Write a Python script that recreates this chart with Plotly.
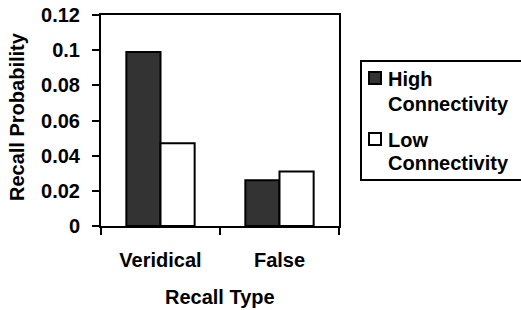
import plotly.graph_objects as go

categories = ["Veridical", "False"]
high_connectivity = [0.099, 0.026]
low_connectivity = [0.047, 0.031]
series_names = ["High<br>Connectivity", "Low<br>Connectivity"]
series_colors = ["#333333", "white"]
y_tick_vals = [0, 0.02, 0.04, 0.06, 0.08, 0.1, 0.12]
y_tick_text = ["0", "0.02", "0.04", "0.06", "0.08", "0.1", "0.12"]

FONT = "Liberation Sans, Arial, sans-serif"
FS = 20

# plot area in pixels
L, R, T, B = 101, 339, 15, 226
W, H = 521, 310


def px2x(px):
    return (px - L) / (R - L)


def px2y(py):
    return (B - py) / (B - T)


fig = go.Figure()
for name, vals, col in zip(series_names, [high_connectivity, low_connectivity], series_colors):
    fig.add_trace(go.Bar(
        x=categories, y=vals, name=name.replace("<br>", " "),
        marker=dict(color=col, line=dict(color="black", width=2)),
        showlegend=False,
    ))

shapes = []
annotations = []
# legend box
shapes.append(dict(type="rect", xref="paper", yref="paper",
                   x0=px2x(361), x1=px2x(525), y0=px2y(180), y1=px2y(61),
                   line=dict(color="black", width=2), fillcolor="white", layer="above"))
line_rows = [(78, 103), (139, 162)]
for name, col, rows in zip(series_names, series_colors, line_rows):
    cy = rows[0]
    shapes.append(dict(type="rect", xref="paper", yref="paper",
                       x0=px2x(369), x1=px2x(381), y0=px2y(cy + 6), y1=px2y(cy - 6),
                       line=dict(color="black", width=2), fillcolor=col, layer="above"))
    for txt, ry in zip(name.split("<br>"), rows):
        annotations.append(dict(text=txt, xref="paper", yref="paper",
                                x=px2x(386), y=px2y(ry + 1), xanchor="left", yanchor="middle",
                                showarrow=False, font=dict(family=FONT, size=FS, color="black", weight="bold")))

# axis titles
annotations.append(dict(text="Recall Type", xref="paper", yref="paper",
                        x=px2x(220), y=px2y(297), xanchor="center", yanchor="middle",
                        showarrow=False, font=dict(family=FONT, size=FS, color="black", weight="bold")))
annotations.append(dict(text="Recall Probability", xref="paper", yref="paper",
                        x=px2x(17), y=px2y(117), xanchor="center", yanchor="middle", textangle=-90,
                        showarrow=False, font=dict(family=FONT, size=FS, color="black", weight="bold")))

fig.update_layout(
    width=W, height=H,
    margin=dict(l=L, r=W - R, t=T, b=H - B, autoexpand=False),
    paper_bgcolor="white", plot_bgcolor="white",
    font=dict(family=FONT, size=FS, color="black", weight="bold"),
    barmode="group", bargap=0.426, bargroupgap=0,
    showlegend=False,
    shapes=shapes, annotations=annotations,
)
fig.update_xaxes(
    type="category", showline=True, linecolor="black", linewidth=2, mirror=True,
    ticks="outside", ticklen=7, tickwidth=2, tickcolor="black", tickson="boundaries",
    showgrid=False, ticklabelstandoff=15, automargin=False,
)
fig.update_yaxes(
    range=[0, 0.12], tickvals=y_tick_vals, ticktext=y_tick_text,
    showline=True, linecolor="black", linewidth=2, mirror=True,
    ticks="outside", ticklen=7, tickwidth=2, tickcolor="black",
    showgrid=False, zeroline=False, ticklabelstandoff=8, automargin=False,
)

fig.write_html(
    "out.html",
    config={"displayModeBar": False},
    post_script="document.body.style.margin='0';document.body.style.overflow='hidden';",
)
